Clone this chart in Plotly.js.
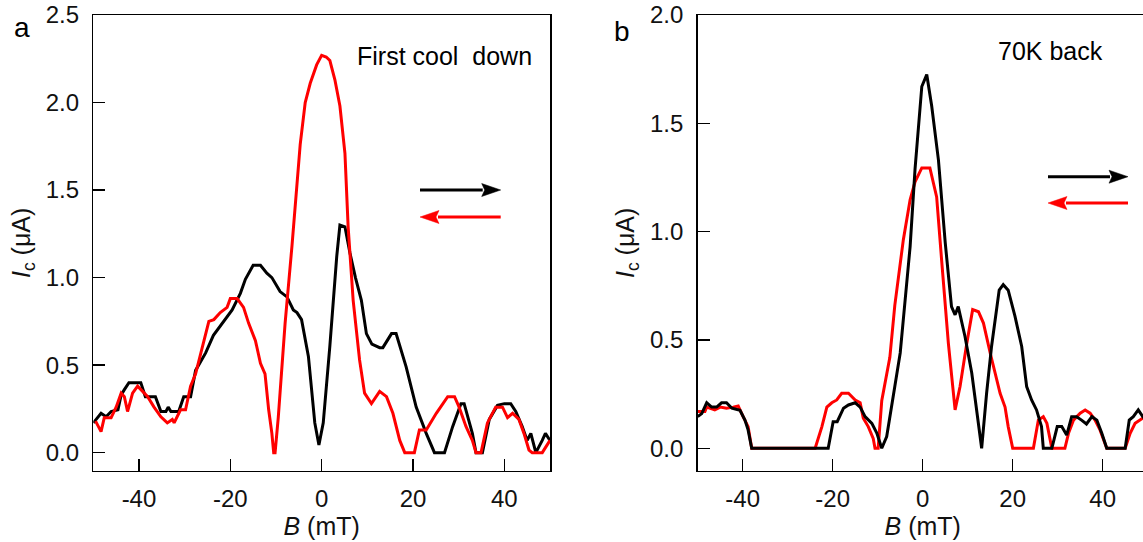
<!DOCTYPE html>
<html>
<head>
<meta charset="utf-8">
<script src="https://cdn.plot.ly/plotly-3.0.1.min.js"></script>
<style>
html,body{margin:0;padding:0;overflow:hidden;background:#fff;}
#chart{width:1150px;height:542px;}
</style>
</head>
<body>
<div id="chart"></div>
<script>
// Panel a: first cool down
const aBlackB = [-50,-48.3,-47.2,-46.1,-44.6,-43.9,-43.2,-42.2,-39.6,-38.6,-36.4,-35.2,-34.1,-33.6,-33.0,-31.3,-30.2,-28.7,-27.6,-25.4,-23.7,-21.1,-19.6,-17.8,-16.7,-15.0,-13.4,-12.0,-10.9,-9.1,-7.6,-6.2,-5.4,-4.4,-2.9,-1.5,-0.6,0.35,1.8,3.3,4.0,5.1,6.2,7.4,8.7,9.8,11.0,12.7,13.4,15.3,16.3,18.5,20.7,22.9,24.7,26.9,28.7,30.5,31.2,33.0,33.8,35.2,36.7,38.5,40.0,41.4,42.5,43.9,45.0,45.8,46.9,48.3,49.0,50];
const aBlackI = [0.17,0.225,0.205,0.235,0.245,0.33,0.36,0.40,0.40,0.32,0.32,0.235,0.235,0.26,0.235,0.235,0.32,0.32,0.47,0.57,0.67,0.76,0.815,0.91,0.99,1.07,1.07,1.025,1.0,0.92,0.89,0.815,0.80,0.76,0.55,0.17,0.044,0.17,0.61,1.12,1.30,1.29,1.14,1.0,0.87,0.68,0.62,0.60,0.60,0.68,0.68,0.49,0.26,0.11,0.0,0.0,0.15,0.28,0.28,0.11,0.0,0.0,0.19,0.27,0.28,0.28,0.235,0.15,0.07,0.11,0.0,0.07,0.11,0.07];
const aRedB = [-49.5,-48.3,-47.6,-46.1,-45.0,-43.9,-43.2,-42.5,-41.4,-40.3,-39.2,-38.1,-36.7,-35.2,-33.8,-32.7,-32.3,-30.9,-29.8,-28.7,-27.6,-26.5,-25.4,-24.7,-23.6,-22.2,-20.7,-20.0,-18.5,-17.1,-16.0,-14.5,-13.4,-12.4,-11.6,-10.9,-10.5,-10.2,-9.5,-8.0,-6.5,-4.7,-3.6,-2.5,-1.1,0,1.0,1.8,2.9,4.0,5.1,5.8,6.9,8.3,9.4,10.9,12.7,14.2,15.6,17.1,18.2,20.3,21.4,22.9,25.1,26.5,27.6,29.1,30.1,31.6,33.0,33.8,34.9,36.3,38.1,39.6,40.7,41.8,43.2,44.3,45.4,46.1,48.3,50];
const aRedI = [0.18,0.12,0.20,0.20,0.26,0.34,0.32,0.235,0.34,0.38,0.35,0.32,0.26,0.205,0.17,0.19,0.17,0.245,0.245,0.38,0.45,0.57,0.68,0.75,0.76,0.80,0.83,0.88,0.88,0.83,0.74,0.64,0.51,0.45,0.245,0.11,0.0,0.0,0.2,0.74,1.18,1.76,2.0,2.11,2.215,2.27,2.26,2.24,2.13,1.98,1.71,1.29,0.87,0.53,0.34,0.28,0.35,0.32,0.225,0.07,0.0,0.0,0.13,0.13,0.225,0.28,0.32,0.32,0.26,0.15,0.07,0.0,0.0,0.17,0.26,0.26,0.2,0.225,0.19,0.11,0.015,0.0,0.0,0.07];

// Panel b: 70K back
const bBlackB = [-50,-49.1,-48,-46.9,-45.8,-44.7,-43.6,-42.4,-40.6,-39.5,-38.8,-38.0,-21.0,-19.9,-19.0,-17.6,-16.5,-15.0,-13.9,-12.8,-11.3,-10.2,-9.1,-8.0,-6.2,-5.0,-3.9,-2.8,-1.7,-0.2,0.9,2.0,3.5,5.0,6.4,7.2,7.9,9.4,10.9,12.0,13.1,14.2,15.3,17.0,17.9,19.0,20.5,22.0,23.1,24.2,25.3,26.4,26.8,28.7,29.9,30.9,32.0,33.1,34.2,35.3,36.4,37.6,38.7,39.8,40.9,45.0,45.9,46.8,47.9,48.9,50];
const bBlackI = [0.146,0.16,0.21,0.19,0.19,0.21,0.21,0.185,0.175,0.13,0.085,0.0,0.0,0.123,0.123,0.185,0.20,0.21,0.19,0.146,0.115,0.07,0.0,0.054,0.285,0.44,0.685,0.93,1.29,1.67,1.725,1.58,1.33,0.95,0.654,0.616,0.654,0.516,0.347,0.177,0.0,0.254,0.47,0.73,0.755,0.73,0.61,0.47,0.285,0.223,0.177,0.1,0.0,0.0,0.1,0.1,0.061,0.146,0.146,0.13,0.112,0.146,0.13,0.069,0.0,0.0,0.13,0.146,0.177,0.146,0.12];
const bRedB = [-50,-48.4,-48.0,-46.2,-45.0,-43.6,-42.1,-41.0,-39.9,-38.8,-38.0,-23.9,-22.4,-21.3,-20.2,-19.1,-18.0,-16.5,-15.0,-13.9,-13.2,-12.1,-11.0,-10.6,-9.9,-9.1,-7.3,-6.2,-4.3,-2.8,-1.7,-0.2,1.6,3.1,4.2,5.7,7.2,8.3,9.8,11.1,12.4,13.5,15.0,16.4,17.2,18.3,19.0,20.0,24.6,25.7,26.8,27.6,28.7,31.6,32.4,33.5,35.0,36.1,37.2,38.3,39.4,40.9,45.0,46.1,47.2,48.9,50];
const bRedI = [0.17,0.17,0.19,0.177,0.19,0.185,0.19,0.195,0.146,0.10,0.0,0.0,0.10,0.19,0.21,0.223,0.254,0.254,0.223,0.21,0.139,0.10,0.046,0.0,0.0,0.22,0.42,0.66,0.963,1.147,1.23,1.294,1.294,1.16,0.87,0.485,0.177,0.285,0.485,0.64,0.63,0.578,0.44,0.33,0.254,0.19,0.10,0.0,0.0,0.13,0.146,0.115,0.0,0.0,0.069,0.13,0.162,0.177,0.162,0.13,0.085,0.0,0.0,0.069,0.115,0.139,0.13];

// Tick labels
const xTickVals = [-40, -20, 0, 20, 40];
const xTickText = ['-40', '-20', '0', '20', '40'];

const panelLabels = ['a','b'];
const panelNotes = ['First cool\u00a0 down','70K back'];
const xTitle = '<i>B</i> (mT)';
const yTitle = '<i>I</i><sub>c</sub> (μA)';

const FONT = 'Liberation Sans, Arial, sans-serif';
const W = 1150, H = 542;
const px = v => v / W;
const py = v => 1 - v / H;

const lineStyle = (c) => ({color: c, width: 3});
const traces = [
  {x: aBlackB, y: aBlackI, xaxis:'x', yaxis:'y', mode:'lines', line: lineStyle('#000000'), name:'up a'},
  {x: aRedB, y: aRedI, xaxis:'x', yaxis:'y', mode:'lines', line: lineStyle('#ff0000'), name:'down a'},
  {x: bRedB, y: bRedI, xaxis:'x2', yaxis:'y2', mode:'lines', line: lineStyle('#ff0000'), name:'down b'},
  {x: bBlackB, y: bBlackI, xaxis:'x2', yaxis:'y2', mode:'lines', line: lineStyle('#000000'), name:'up b'}
];

const axisCommon = {
  showline: true, linecolor: '#000', linewidth: 1.5, mirror: true,
  ticks: 'inside', ticklen: 12, tickwidth: 1.5, tickcolor: '#000',
  showgrid: false, zeroline: false,
  tickfont: {family: FONT, size: 24, color: '#111'}
};
const yDom = [1 - 470.7/H, 1 - 15/H];
const titleFont = {family:FONT, size:25, color:'#111'};

// direction arrows drawn as shapes (line + triangular head)
function arrow(tipX, y, tailX, color) {
  const dir = tipX > tailX ? 1 : -1;
  const baseX = tipX - dir * 19;
  return [
    {type:'line', xref:'paper', yref:'paper', x0:px(tailX), y0:py(y), x1:px(baseX + dir*1), y1:py(y), line:{color:color, width:3}},
    {type:'path', xref:'paper', yref:'paper',
     path:`M ${px(tipX)},${py(y)} L ${px(baseX)},${py(y-6.5)} L ${px(baseX + dir*3)},${py(y)} L ${px(baseX)},${py(y+6.5)} Z`,
     fillcolor:color, line:{color:color, width:0.5}}
  ];
}

const layout = {
  width: W, height: H,
  margin: {l:0, r:0, t:0, b:0},
  paper_bgcolor: '#fff', plot_bgcolor: '#fff',
  showlegend: false,
  xaxis: Object.assign({}, axisCommon, {domain:[px(93.3), px(550)], range:[-50,50], tickvals:xTickVals, ticktext:xTickText, anchor:'y', ticklabelstandoff: 6,
    title:{text:xTitle, font:titleFont, standoff: 0}}),
  yaxis: Object.assign({}, axisCommon, {domain:yDom, range:[-0.103,2.5], dtick:0.5, tickformat:'.1f', anchor:'x', ticklabelstandoff: 8,
    title:{text:yTitle, font:titleFont, standoff: 8}}),
  xaxis2: Object.assign({}, axisCommon, {domain:[px(697.7), px(1147.7)], range:[-50,50], tickvals:xTickVals, ticktext:xTickText, anchor:'y2', ticklabelstandoff: 6,
    title:{text:xTitle, font:titleFont, standoff: 0}}),
  yaxis2: Object.assign({}, axisCommon, {domain:yDom, range:[-0.1035,2.0], dtick:0.5, tickformat:'.1f', anchor:'x2', ticklabelstandoff: 8,
    title:{text:yTitle, font:titleFont, standoff: 8}}),
  shapes: [].concat(
    arrow(500.7, 190, 420, '#000000'),
    arrow(420, 217, 500.7, '#ff0000'),
    arrow(1128, 176.7, 1048, '#000000'),
    arrow(1048, 203, 1128, '#ff0000')
  ),
  annotations: [
    {text: panelLabels[0], xref:'paper', yref:'paper', x:px(22), y:py(28), xanchor:'center', yanchor:'middle', showarrow:false, font:{family:FONT, size:28, color:'#000'}},
    {text: panelLabels[1], xref:'paper', yref:'paper', x:px(622), y:py(31), xanchor:'center', yanchor:'middle', showarrow:false, font:{family:FONT, size:28, color:'#000'}},
    {text: panelNotes[0], xref:'paper', yref:'paper', x:px(355), y:py(56), xanchor:'left', yanchor:'middle', showarrow:false, font:{family:FONT, size:25, color:'#000'}},
    {text: panelNotes[1], xref:'paper', yref:'paper', x:px(996), y:py(51), xanchor:'left', yanchor:'middle', showarrow:false, font:{family:FONT, size:25, color:'#000'}}
  ]
};

Plotly.newPlot('chart', traces, layout, {displayModeBar:false, staticPlot:true});
</script>
</body>
</html>
